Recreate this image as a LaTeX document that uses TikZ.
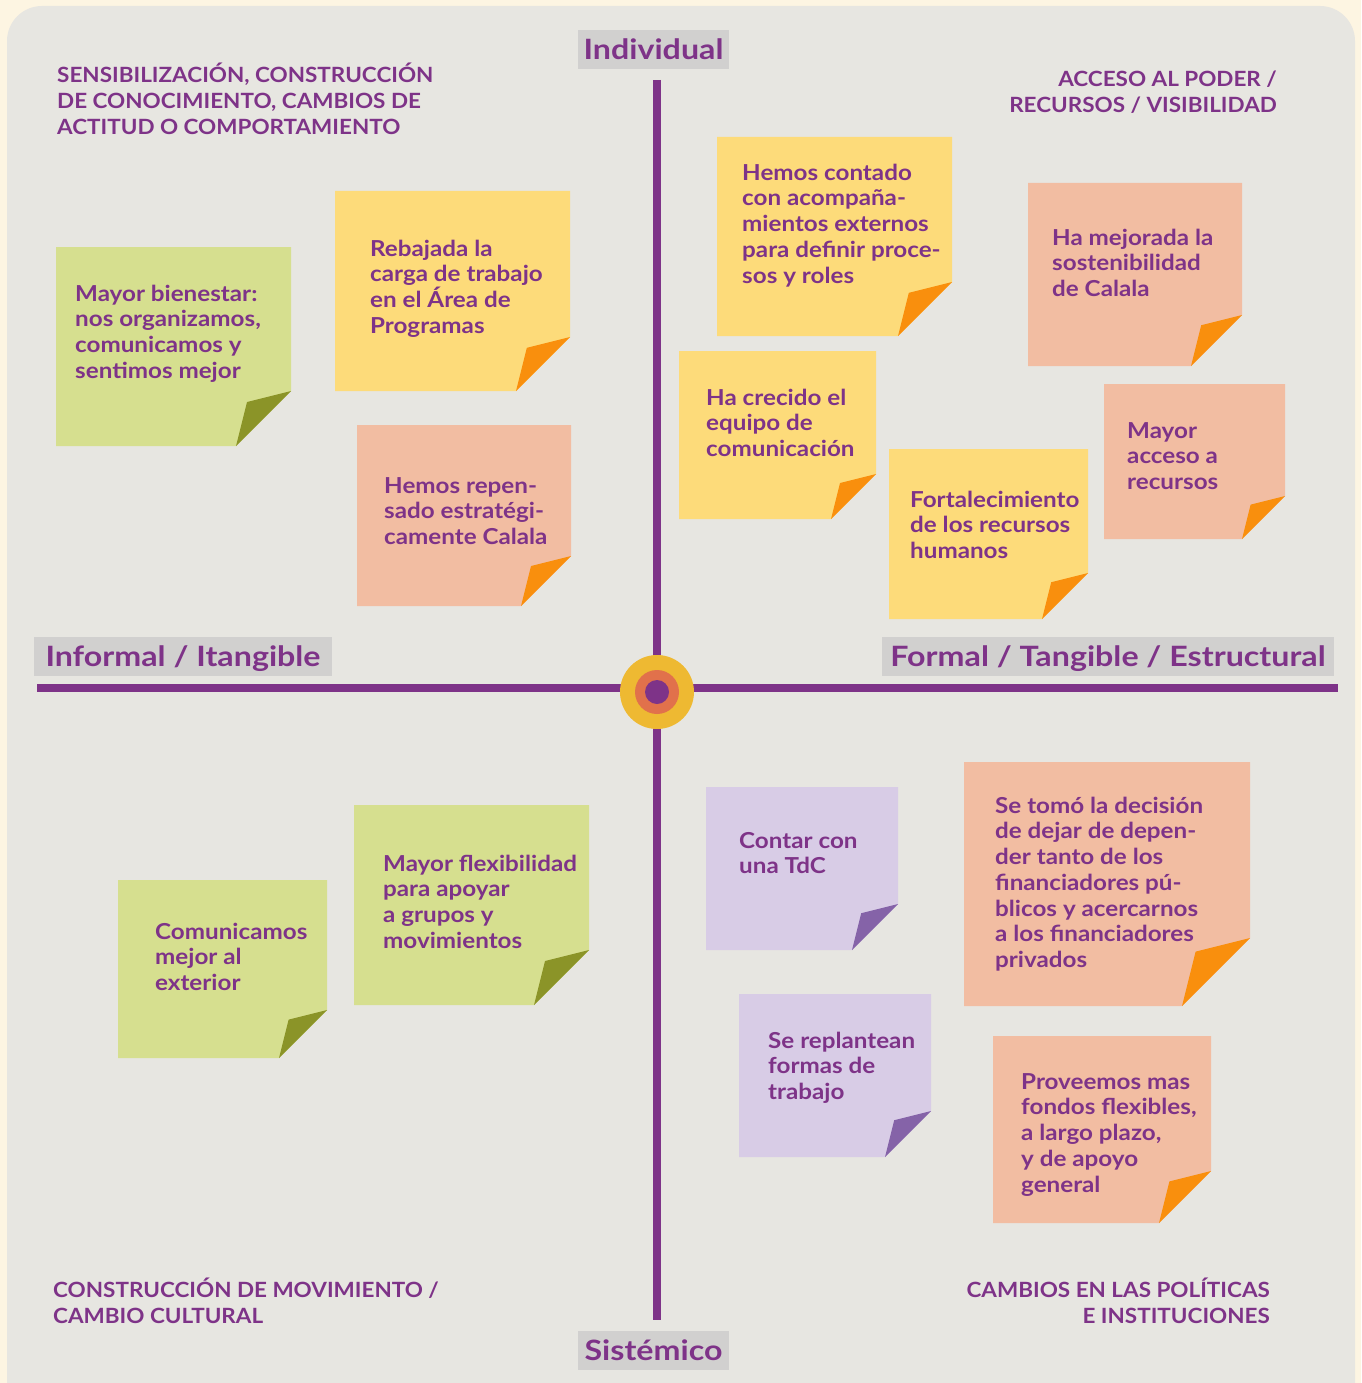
\documentclass[tikz,border=0pt]{standalone}
\usepackage{fontspec}
\setmainfont{Lato}
\newfontfamily\notefont{Lato}[FakeStretch=1.1]
\newfontfamily\headfont{Lato}[FakeStretch=1.07]
\newfontfamily\tagfont{Lato}[FakeStretch=1.15]
\definecolor{cream}{HTML}{FDF5E2}
\definecolor{panel}{HTML}{E7E6E1}
\definecolor{tagbg}{HTML}{D1D0CF}
\definecolor{plum}{HTML}{7E3388}
\definecolor{ringY}{HTML}{EEB932}
\definecolor{ringO}{HTML}{E1714B}
\definecolor{yellowP}{HTML}{FDDB7A}
\definecolor{salmonP}{HTML}{F2BDA2}
\definecolor{greenP}{HTML}{D6DF8F}
\definecolor{lilacP}{HTML}{D8CCE6}
\definecolor{orangeF}{HTML}{F98F0D}
\definecolor{oliveF}{HTML}{8B9428}
\definecolor{violetF}{HTML}{8563A8}
\tikzset{
  yellowbody/.style={fill=yellowP}, yellowflap/.style={fill=orangeF},
  salmonbody/.style={fill=salmonP}, salmonflap/.style={fill=orangeF},
  greenbody/.style={fill=greenP},   greenflap/.style={fill=oliveF},
  lilacbody/.style={fill=lilacP},   lilacflap/.style={fill=violetF},
  notetext/.style={anchor=north west, yshift=9pt, inner sep=0pt, align=left,
    text=plum, font=\notefont\fontsize{22}{25.7}\selectfont\bfseries},
  headL/.style={anchor=north west, yshift=11.5pt, inner sep=0pt, align=left,
    text=plum, font=\headfont\fontsize{21}{26}\selectfont\bfseries},
  headR/.style={headL, anchor=north east, align=right},
  axistag/.style={fill=tagbg, inner xsep=0pt, inner ysep=0pt, minimum height=39pt,
    text height=20pt, text depth=0pt, text=plum, font=\tagfont\fontsize{28}{30}\selectfont\bfseries},
  axisline/.style={draw=plum, line width=8.5pt},
}
\newcommand\strt{\rule{0pt}{17pt}}
% sticky note: #1 kind, #2 x1, #3 y1, #4 x2, #5 y2, #6 fold size
\newcommand\postit[6]{%
  \fill[#1body] (#2,#3) -- (#4,#3) -- (#4,{#5-#6}) -- ({#4-#6},#5) -- (#2,#5) -- cycle;
  \fill[#1flap] (#4,{#5-#6}) -- ({#4-0.8*#6},{#5-0.8*#6}) -- ({#4-#6},#5) -- cycle;
}
\begin{document}
\begin{tikzpicture}[x=1pt,y=-1pt]
\useasboundingbox (0,0) rectangle (1361,1383);
\fill[cream] (0,0) rectangle (1361,1383);
\begin{scope}
\clip (0,0) rectangle (1361,1383);
\fill[panel, rounded corners=35pt] (7,6) rectangle (1355,1420);
\end{scope}

% axes
\coordinate (top) at (657,80);
\coordinate (bottom) at (657,1320);
\coordinate (left) at (37,688);
\coordinate (right) at (1338,688);
\draw[axisline] (top) -- (bottom);
\draw[axisline] (left) -- (right);
\node[circle, fill=ringY, minimum size=74pt, inner sep=0pt] (hubA) at (657,692) {};
\node[circle, fill=ringO, minimum size=44pt, inner sep=0pt] (hubB) at (hubA.center) {};
\node[circle, fill=plum, minimum size=24pt, inner sep=0pt] (hubC) at (hubA.center) {};

% axis tags
\node[axistag, minimum width=151pt] (tagN) at (653.5,49.5) {Individual};
\node[axistag, minimum width=151pt] (tagS) at (653.5,1350) {Sistémico};
\node[axistag, minimum width=298pt] (tagW) at (183,656.5) {Informal / Itangible};
\node[axistag, minimum width=452pt] (tagE) at (1108,656.5) {Formal / Tangible / Estructural};

% quadrant headings
\node[headL] (hNW) at (57,74) {\strt SENSIBILIZACIÓN, CONSTRUCCIÓN\\DE CONOCIMIENTO, CAMBIOS DE\\ACTITUD O COMPORTAMIENTO};
\node[headR] (hNE) at (1277,81) {\strt ACCESO AL PODER /\\RECURSOS / VISIBILIDAD};
\node[headL] (hSW) at (53,1289) {\strt CONSTRUCCIÓN DE MOVIMIENTO /\\CAMBIO CULTURAL};
\node[headR] (hSE) at (1270,1289) {\strt CAMBIOS EN LAS POLÍTICAS\\E INSTITUCIONES};

% upper-left notes
\postit{green}{56}{247}{291}{446}{55}
\node[notetext] (n1) at (75,293) {\strt Mayor bienestar:\\nos organizamos,\\comunicamos y\\sentimos mejor};
\postit{yellow}{335}{191}{570}{391}{54}
\node[notetext] (n2) at (370,248) {\strt Rebajada la\\carga de trabajo\\en el Área de\\Programas};
\postit{salmon}{357}{425}{571}{606}{50}
\node[notetext] (n3) at (384,485) {\strt Hemos repen-\\sado estratégi-\\camente Calala};

% upper-right notes
\postit{yellow}{717}{137}{952}{336}{54}
\node[notetext] (n4) at (742,172) {\strt Hemos contado\\con acompaña-\\mientos externos\\para definir proce-\\sos y roles};
\postit{salmon}{1028}{183}{1242}{366}{51}
\node[notetext] (n5) at (1052,237) {\strt Ha mejorada la\\sostenibilidad\\de Calala};
\postit{yellow}{679}{351}{876}{519}{45}
\node[notetext] (n6) at (706,397) {\strt Ha crecido el\\equipo de\\comunicación};
\postit{yellow}{889}{449}{1088}{619}{46}
\node[notetext] (n7) at (910,499) {\strt Fortalecimiento\\de los recursos\\humanos};
\postit{salmon}{1104}{384}{1285}{539}{43}
\node[notetext] (n8) at (1127,430) {\strt Mayor\\acceso a\\recursos};

% lower-left notes
\postit{green}{118}{880}{327}{1058}{48}
\node[notetext] (n9) at (155,931) {\strt Comunicamos\\mejor al\\exterior};
\postit{green}{354}{805}{589}{1005}{55}
\node[notetext] (n10) at (383,863) {\strt Mayor flexibilidad\\para apoyar\\a grupos y\\movimientos};

% lower-right notes
\postit{lilac}{706}{787}{898}{950}{46}
\node[notetext] (n11) at (739,840) {\strt Contar con\\una TdC};
\postit{lilac}{739}{994}{931}{1157}{46}
\node[notetext] (n12) at (768,1040) {\strt Se replantean\\formas de\\trabajo};
\postit{salmon}{964}{762}{1250}{1006}{68}
\node[notetext] (n13) at (995,805) {\strt Se tomó la decisión\\de dejar de depen-\\der tanto de los\\financiadores pú-\\blicos y acercarnos\\a los financiadores\\privados};
\postit{salmon}{993}{1036}{1211}{1223}{52}
\node[notetext] (n14) at (1021,1081) {\strt Proveemos mas\\fondos flexibles,\\a largo plazo,\\y de apoyo\\general};
\end{tikzpicture}
\end{document}
